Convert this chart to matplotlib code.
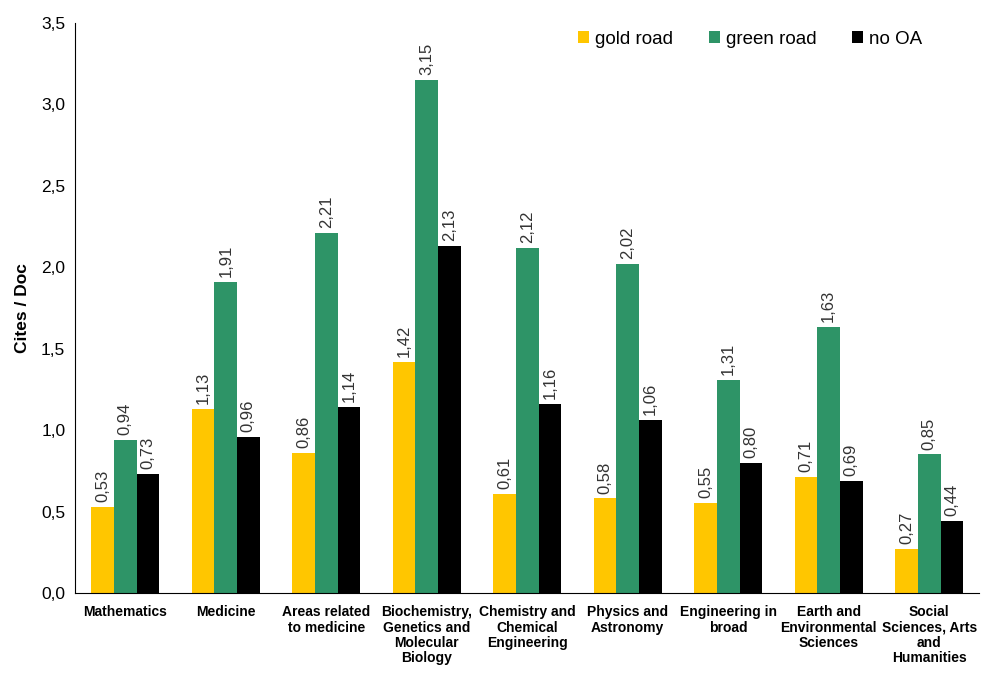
import numpy as np
import matplotlib.pyplot as plt

plt.rcParams["font.family"] = ["Liberation Sans", "DejaVu Sans"]

categories = ["Mathematics", "Medicine", "Areas related\nto medicine",
              "Biochemistry,\nGenetics and\nMolecular\nBiology",
              "Chemistry and\nChemical\nEngineering", "Physics and\nAstronomy",
              "Engineering in\nbroad", "Earth and\nEnvironmental\nSciences",
              "Social\nSciences, Arts\nand\nHumanities"]
gold_road = [0.53, 1.13, 0.86, 1.42, 0.61, 0.58, 0.55, 0.71, 0.27]
green_road = [0.94, 1.91, 2.21, 3.15, 2.12, 2.02, 1.31, 1.63, 0.85]
no_oa = [0.73, 0.96, 1.14, 2.13, 1.16, 1.06, 0.80, 0.69, 0.44]
series_names = ["gold road", "green road", "no OA"]
colors = ["#FFC600", "#2E9467", "#000000"]

fig = plt.figure(figsize=(9.82, 6.75), dpi=100)
ax = fig.add_axes([0.0764, 0.1215, 0.921, 0.845])

x = np.arange(len(categories))
w = 0.225
for i, (vals, name, c) in enumerate(zip([gold_road, green_road, no_oa], series_names, colors)):
    xs = x + (i - 1) * w
    ax.bar(xs, vals, width=w, color=c, label=name)
    for xi, v in zip(xs, vals):
        ax.text(xi, v + 0.03, f"{v:.2f}".replace(".", ","), rotation=90,
                ha="center", va="bottom", fontsize=12, color="#333333")

ax.set_xlim(-0.5, len(categories) - 0.5)
ax.set_ylim(0, 3.5)
ax.set_yticks(np.arange(0, 3.51, 0.5))
ax.set_yticklabels([f"{t:.1f}".replace(".", ",") for t in np.arange(0, 3.51, 0.5)], fontsize=12.5)
ax.set_xticks(x)
ax.set_xticklabels(categories, fontsize=10, fontweight="bold", linespacing=1.1)
ax.tick_params(length=0, pad=9)
ax.tick_params(axis="y", pad=7)
ax.set_ylabel("Cites / Doc", fontsize=12.5, fontweight="bold", labelpad=8)
for s in ["top", "right"]:
    ax.spines[s].set_visible(False)

ax.legend(loc="upper right", bbox_to_anchor=(0.955, 1.015), ncol=3, frameon=False,
          fontsize=13.5, handlelength=0.6, handleheight=0.6, handletextpad=0.3,
          columnspacing=1.9)

fig.savefig("out.png", dpi=100)
